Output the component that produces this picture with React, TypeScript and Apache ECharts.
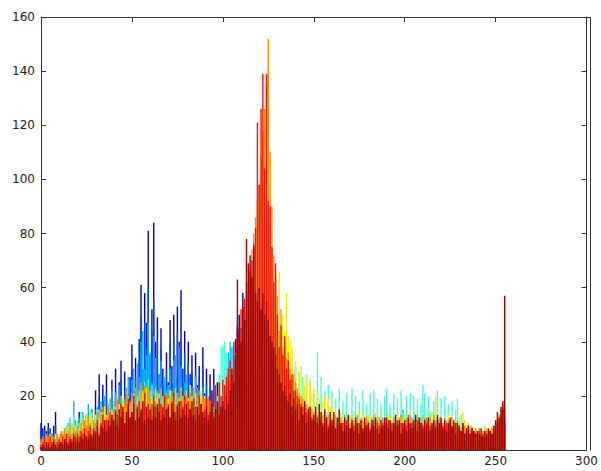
import React, { useEffect, useRef } from "react";
import * as echarts from "echarts";

// Histogram counts per intensity bin (bin index = intensity 0..255), one list per colour group
const navy = [
  10, 8, 9, 7, 10, 8, 6, 9, 14, 5,
  4, 6, 3, 5, 4, 7, 5, 6, 3, 5,
  8, 14, 6, 12, 5, 13, 9, 4, 15, 10,
  22, 12, 28, 15, 24, 11, 28, 17, 13, 26,
  18, 30, 14, 25, 33, 16, 29, 21, 12, 27,
  39, 22, 34, 18, 41, 61, 30, 58, 47, 81,
  35, 52, 84, 40, 49, 28, 45, 30, 22, 36,
  25, 48, 31, 50, 27, 53, 40, 59, 30, 44,
  22, 40, 28, 35, 19, 36, 24, 31, 18, 38,
  21, 30, 17, 28, 22, 30, 15, 25, 18, 13,
  12, 10, 8, 6, 10, 20, 30, 41, 46, 50,
  45, 58, 38, 25, 10, 5, 3, 2, 1, 0,
];
const blue = [
  7, 6, 7, 4, 8, 5, 3, 6, 9, 3,
  2, 4, 2, 3, 3, 5, 3, 4, 2, 4,
  5, 10, 4, 9, 4, 9, 7, 3, 11, 8,
  15, 9, 20, 11, 18, 8, 21, 12, 10, 19,
  13, 22, 11, 18, 26, 12, 22, 16, 10, 20,
  30, 17, 27, 15, 33, 50, 24, 47, 38, 60,
  28, 44, 55, 33, 40, 23, 37, 24, 18, 30,
  20, 40, 25, 42, 22, 44, 33, 38, 25, 36,
  18, 32, 23, 29, 16, 30, 20, 26, 15, 31,
  17, 25, 14, 23, 18, 24, 12, 20, 15, 11,
  9, 8, 6, 5, 8, 16, 25, 33, 38, 43,
  37, 47, 30, 20, 8, 4, 2, 1, 1, 0,
];
const sky = [
  3, 2, 4, 2, 3, 2, 2, 3, 4, 1,
  3, 5, 6, 8, 7, 10, 12, 9, 18, 11,
  9, 12, 6, 14, 8, 13, 17, 6, 15, 10,
  12, 16, 9, 18, 13, 20, 11, 14, 19, 22,
  16, 21, 12, 24, 20, 11, 19, 23, 27, 15,
  26, 30, 18, 32, 27, 40, 44, 30, 35, 47,
  36, 25, 42, 34, 22, 28, 33, 20, 27, 22,
  24, 30, 19, 33, 35, 21, 38, 31, 20, 25,
  28, 17, 24, 23, 14, 27, 23, 15, 21, 23,
  20, 14, 19, 18, 12, 16, 14, 10, 13, 16,
  18, 22, 30, 36, 40, 38, 35, 30, 28, 25,
  22, 18, 14, 10, 8, 6, 4, 3, 2, 2,
  2, 1, 2, 1, 3, 2, 1, 2, 3, 2,
  3, 2, 4, 3, 2, 4, 3, 5, 4, 3,
  5, 4, 6, 5, 4, 6, 5, 7, 6, 5,
  6, 5, 7, 6, 8, 5, 7, 6, 8, 7,
  7, 8, 6, 9, 7, 8, 6, 9, 8, 7,
  8, 7, 9, 8, 10, 7, 9, 8, 10, 9,
  9, 8, 10, 9, 11, 8, 10, 9, 12, 10,
  10, 9, 11, 10, 12, 9, 11, 10, 13, 15,
  12, 11, 13, 10, 12, 14, 11, 13, 12, 10,
  13, 11, 12, 10, 13, 11, 9, 12, 10, 11,
  10, 9, 11, 8, 10, 9, 8, 10, 9, 7,
  8, 7, 6, 7, 5, 6, 5, 4, 5, 4,
  4, 3, 4, 3, 2, 3, 2, 3, 2, 2,
  2, 3, 2, 3, 2, 1,
];
const aqua = [
  2, 3, 2, 4, 3, 2, 3, 4, 5, 3,
  5, 4, 7, 6, 9, 8, 12, 10, 13, 9,
  11, 10, 14, 12, 10, 13, 11, 15, 12, 10,
  13, 11, 15, 12, 14, 16, 13, 15, 12, 14,
  15, 13, 17, 14, 16, 19, 15, 18, 20, 16,
  18, 21, 17, 20, 22, 24, 21, 25, 23, 26,
  22, 24, 20, 23, 21, 19, 22, 20, 18, 21,
  19, 22, 20, 18, 23, 21, 19, 17, 20, 18,
  17, 19, 16, 18, 15, 17, 16, 14, 17, 15,
  14, 16, 13, 15, 12, 14, 16, 20, 28, 38,
  39, 40, 36, 30, 26, 22, 24, 20, 18, 22,
  20, 24, 22, 26, 24, 28, 26, 30, 27, 32,
  30, 34, 31, 36, 33, 38, 35, 40, 37, 42,
  40, 44, 38, 36, 34, 40, 32, 30, 34, 28,
  31, 18, 29, 14, 27, 20, 28, 12, 26, 16,
  21, 12, 36, 15, 27, 11, 22, 14, 24, 10,
  22, 10, 19, 12, 23, 9, 18, 11, 21, 10,
  13, 23, 10, 20, 9, 18, 11, 22, 9, 17,
  10, 21, 9, 22, 12, 19, 10, 17, 11, 20,
  23, 10, 17, 9, 21, 11, 19, 9, 22, 14,
  10, 20, 11, 21, 9, 20, 12, 19, 10, 17,
  24, 21, 10, 20, 14, 9, 18, 10, 22, 11,
  19, 9, 20, 11, 17, 9, 18, 10, 15, 19,
  8, 13, 9, 11, 7, 10, 6, 9, 7, 8,
  6, 8, 5, 7, 9, 6, 7, 5, 8, 6,
  6, 7, 8, 10, 12, 14,
];
const yellow = [
  3, 4, 3, 5, 4, 6, 5, 4, 6, 5,
  6, 5, 7, 8, 6, 9, 8, 10, 7, 9,
  10, 8, 12, 9, 11, 13, 10, 12, 14, 11,
  13, 15, 12, 14, 11, 16, 13, 17, 14, 15,
  18, 16, 20, 17, 15, 19, 16, 18, 14, 17,
  19, 16, 21, 18, 17, 20, 22, 19, 23, 21,
  18, 20, 17, 22, 19, 21, 18, 16, 20, 17,
  19, 22, 18, 20, 17, 21, 19, 23, 18, 20,
  22, 19, 24, 20, 18, 21, 17, 19, 22, 18,
  20, 17, 15, 18, 16, 14, 17, 15, 13, 16,
  14, 12, 15, 13, 11, 14, 12, 16, 13, 15,
  17, 14, 19, 16, 22, 25, 28, 30, 34, 38,
  40, 36, 42, 45, 48, 50, 46, 52, 48, 45,
  50, 66, 46, 50, 44, 58, 42, 40, 38, 30,
  33, 22, 28, 31, 18, 24, 27, 15, 25, 21,
  23, 14, 22, 19, 12, 18, 20, 11, 19, 16,
  16, 9, 15, 12, 8, 14, 11, 13, 9, 13,
  12, 8, 14, 11, 13, 9, 10, 14, 8, 12,
  13, 9, 12, 8, 14, 10, 8, 13, 10, 12,
  8, 13, 10, 12, 8, 11, 14, 8, 12, 11,
  13, 8, 12, 14, 9, 10, 13, 8, 12, 11,
  8, 12, 11, 13, 8, 14, 12, 20, 9, 10,
  12, 8, 11, 10, 13, 8, 12, 10, 8, 10,
  12, 8, 14, 11, 7, 10, 8, 9, 6, 8,
  7, 8, 6, 7, 8, 6, 7, 8, 9, 8,
  10, 9, 12, 14, 16, 18,
];
const orange = [
  4, 5, 3, 6, 5, 4, 6, 5, 4, 6,
  5, 7, 6, 8, 5, 7, 9, 6, 8, 7,
  9, 7, 10, 8, 11, 9, 12, 10, 8, 11,
  10, 14, 8, 13, 16, 9, 12, 17, 11, 13,
  15, 9, 19, 13, 20, 12, 17, 22, 14, 18,
  21, 14, 23, 17, 11, 25, 18, 24, 15, 23,
  19, 12, 22, 18, 14, 19, 23, 13, 17, 21,
  12, 20, 22, 15, 17, 21, 13, 22, 19, 11,
  20, 14, 21, 16, 23, 12, 20, 22, 13, 20,
  19, 12, 20, 15, 16, 11, 17, 15, 10, 16,
  17, 20, 18, 22, 25, 28, 30, 33, 36, 40,
  44, 48, 52, 58, 62, 68, 74, 80, 86, 92,
  98, 108, 118, 126, 135, 152, 110, 90, 72, 64,
  57, 44, 52, 38, 40, 34, 36, 30, 26, 28,
  25, 23, 21, 20, 19, 18, 17, 16, 15, 15,
  14, 15, 13, 14, 12, 13, 14, 12, 13, 11,
  12, 10, 13, 11, 9, 12, 10, 13, 11, 12,
  10, 12, 11, 9, 13, 10, 12, 11, 9, 12,
  11, 10, 12, 13, 10, 11, 12, 9, 11, 10,
  12, 10, 11, 9, 12, 11, 10, 12, 13, 10,
  11, 12, 10, 13, 11, 9, 12, 10, 11, 12,
  10, 12, 11, 9, 12, 10, 13, 11, 10, 12,
  11, 10, 12, 9, 11, 10, 12, 9, 10, 11,
  9, 8, 10, 9, 8, 7, 9, 8, 7, 8,
  7, 8, 6, 7, 6, 8, 7, 6, 8, 9,
  10, 12, 13, 15, 17, 12,
];
const red = [
  2, 3, 4, 2, 3, 5, 3, 4, 2, 3,
  4, 3, 5, 4, 6, 3, 5, 4, 6, 5,
  6, 5, 7, 6, 8, 5, 7, 9, 6, 8,
  7, 11, 6, 10, 13, 9, 11, 8, 14, 12,
  9, 15, 13, 8, 17, 14, 10, 13, 19, 12,
  14, 20, 11, 15, 18, 14, 10, 21, 15, 17,
  11, 17, 20, 16, 12, 19, 17, 13, 20, 15,
  17, 12, 18, 21, 14, 17, 11, 18, 16, 20,
  13, 18, 15, 12, 19, 16, 14, 20, 17, 12,
  15, 19, 13, 18, 22, 14, 24, 16, 25, 20,
  26, 24, 27, 30, 33, 28, 40, 36, 44, 42,
  52, 48, 56, 62, 58, 66, 70, 76, 82, 121,
  98, 126, 139, 104, 139, 92, 90, 75, 62, 69,
  50, 38, 46, 35, 42, 30, 33, 26, 28, 22,
  22, 20, 19, 17, 16, 15, 14, 13, 12, 12,
  11, 10, 12, 9, 11, 10, 8, 11, 9, 10,
  9, 11, 8, 10, 12, 9, 10, 8, 11, 9,
  8, 10, 9, 11, 8, 10, 9, 7, 10, 9,
  10, 8, 9, 11, 8, 10, 9, 8, 10, 9,
  9, 11, 8, 10, 9, 8, 11, 9, 10, 8,
  10, 9, 11, 8, 10, 9, 8, 11, 9, 10,
  9, 8, 10, 11, 9, 8, 10, 9, 11, 8,
  10, 9, 8, 10, 9, 11, 8, 9, 10, 8,
  8, 7, 9, 6, 8, 7, 6, 8, 7, 6,
  6, 7, 5, 6, 7, 5, 6, 7, 6, 8,
  9, 11, 10, 13, 15, 10,
];
const darkRed = [
  1, 2, 1, 3, 2, 1, 2, 3, 2, 1,
  2, 3, 2, 4, 3, 2, 4, 3, 5, 3,
  4, 3, 5, 4, 6, 5, 4, 6, 5, 7,
  6, 9, 5, 9, 8, 11, 7, 11, 9, 13,
  11, 14, 9, 15, 12, 16, 10, 14, 17, 12,
  14, 17, 11, 16, 12, 15, 18, 11, 16, 12,
  15, 11, 16, 12, 17, 14, 11, 16, 12, 15,
  16, 12, 17, 14, 11, 16, 18, 12, 15, 13,
  17, 12, 15, 18, 13, 11, 16, 13, 17, 14,
  12, 16, 11, 14, 17, 12, 15, 18, 13, 16,
  18, 15, 20, 17, 22, 30, 25, 35, 63, 45,
  40, 53, 48, 78, 69, 72, 64, 75, 58, 55,
  60, 52, 58, 50, 55, 48, 42, 40, 38, 35,
  30, 28, 25, 22, 24, 20, 18, 21, 16, 19,
  15, 17, 11, 16, 13, 18, 10, 15, 16, 11,
  13, 16, 10, 17, 14, 9, 15, 12, 8, 14,
  11, 14, 8, 12, 15, 10, 7, 12, 9, 13,
  8, 11, 7, 12, 10, 6, 11, 8, 12, 9,
  10, 7, 11, 9, 12, 8, 6, 11, 9, 12,
  12, 8, 11, 7, 10, 13, 9, 11, 6, 10,
  11, 7, 12, 10, 8, 11, 13, 7, 12, 10,
  8, 11, 9, 12, 7, 10, 11, 8, 13, 10,
  12, 8, 11, 7, 10, 12, 9, 11, 6, 10,
  9, 7, 10, 6, 8, 9, 6, 8, 7, 6,
  7, 6, 8, 5, 7, 6, 8, 7, 6, 9,
  11, 14, 12, 16, 18, 57,
];

const xTicks = [0, 50, 100, 150, 200, 250, 300];
const yTicks = [0, 20, 40, 60, 80, 100, 120, 140, 160];

const groups = [
  { name: "navy", color: "#0000c4", values: navy },
  { name: "blue", color: "#0046ff", values: blue },
  { name: "sky", color: "#00b8ff", values: sky },
  { name: "aqua", color: "#46ffd2", values: aqua },
  { name: "yellow", color: "#f2ee00", values: yellow },
  { name: "orange", color: "#ff8a00", values: orange },
  { name: "red", color: "#f21400", values: red },
  { name: "darkRed", color: "#990000", values: darkRed },
];

const W = 601;
const H = 471;
const G = { left: 41, top: 17, right: 11, bottom: 21 };

export default function App() {
  const ref = useRef<HTMLDivElement>(null);
  useEffect(() => {
    document.body.style.margin = "0";
    const chart = echarts.init(ref.current!, null, { renderer: "svg" });
    const mkLine = () => ({ show: true, onZero: false, lineStyle: { color: "#333333", width: 1 } });
    const mkTick = () => ({ show: true, inside: true, length: 5, lineStyle: { color: "#333333", width: 1 } });
    const font = { fontFamily: "DejaVu Sans", fontSize: 12, color: "#222222" };
    const xMin = xTicks[0];
    const xMax = xTicks[xTicks.length - 1];
    const yMin = yTicks[0];
    const yMax = yTicks[yTicks.length - 1];
    const x1 = G.left + 0.5;
    const x2 = W - G.right + 0.5;
    const y1 = G.top + 0.5;
    const y2 = H - G.bottom + 0.5;
    chart.setOption({
      animation: false,
      backgroundColor: "#ffffff",
      grid: { ...G, containLabel: false },
      xAxis: [
        { type: "value", min: xMin, max: xMax, interval: 50, position: "bottom", axisLine: mkLine(), axisTick: mkTick(), splitLine: { show: false }, axisLabel: { ...font, margin: 5 } },
        { type: "value", min: xMin, max: xMax, interval: 50, position: "top", axisLine: mkLine(), axisTick: mkTick(), splitLine: { show: false }, axisLabel: { show: false } },
      ],
      yAxis: [
        { type: "value", min: yMin, max: yMax, interval: 20, position: "left", axisLine: mkLine(), axisTick: mkTick(), splitLine: { show: false }, axisLabel: { ...font, margin: 6 } },
        { type: "value", min: yMin, max: yMax, interval: 20, position: "right", axisLine: mkLine(), axisTick: mkTick(), splitLine: { show: false }, axisLabel: { show: false } },
      ],
      graphic: [
        { type: "line", silent: true, z: 50, shape: { x1, y1, x2, y2: y1 }, style: { stroke: "#333333", lineWidth: 1 } },
        { type: "line", silent: true, z: 50, shape: { x1: x2, y1, x2, y2 }, style: { stroke: "#333333", lineWidth: 1 } },
      ],
      series: groups.map((g) => ({
        name: g.name,
        type: "bar",
        xAxisIndex: 0,
        yAxisIndex: 0,
        barWidth: 1.4,
        barGap: "-100%",
        silent: true,
        itemStyle: { color: g.color },
        data: g.values.map((v, i) => [i, v]),
      })),
    });
    return () => chart.dispose();
  }, []);
  return <div ref={ref} style={{ width: W, height: H }} />;
}
